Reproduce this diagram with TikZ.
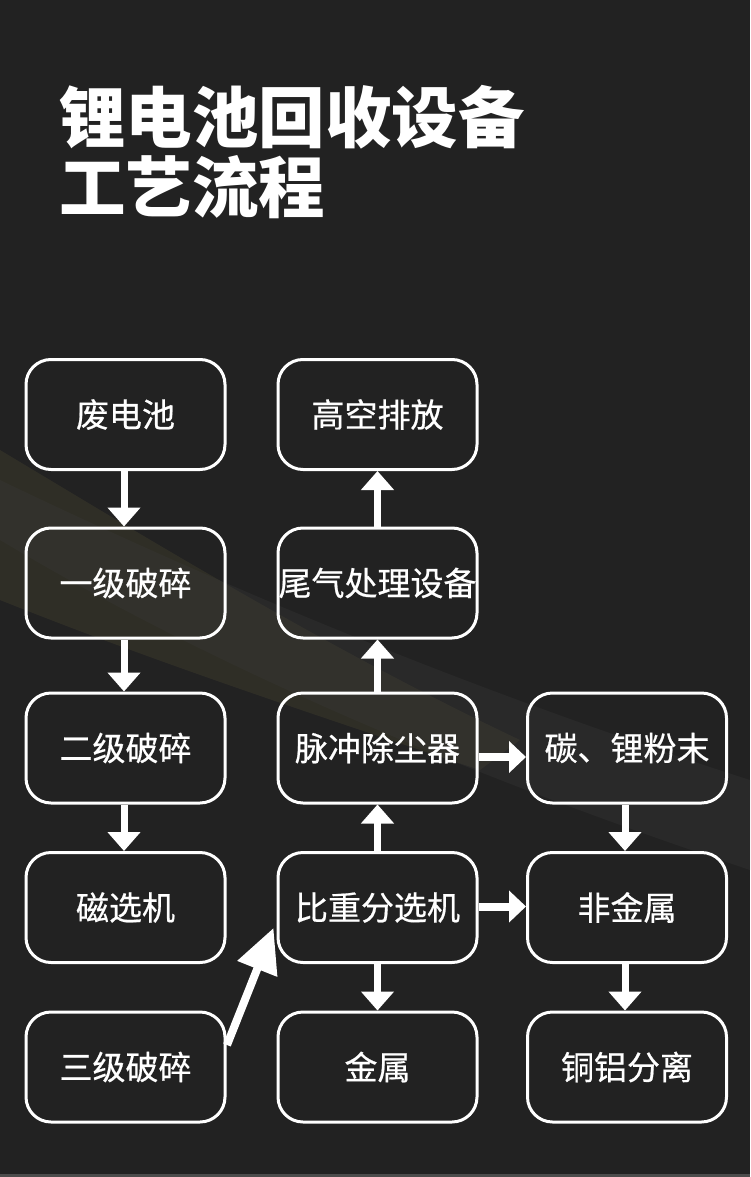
\documentclass[tikz,border=0pt]{standalone}
\usepackage{fontspec}
\newfontfamily\cjk{Noto Sans CJK SC}
\newfontfamily\cjkm{Noto Sans CJK SC}[FakeBold=0.6]
\usetikzlibrary{arrows.meta,calc}
\definecolor{bgc}{HTML}{222222}
\definecolor{bandc}{HTML}{3A3A3A}
\definecolor{olivec}{HTML}{4A4630}
\begin{document}
\begin{tikzpicture}[x=1pt,y=-1pt,
  box/.style={draw=white,line width=3pt,rounded corners=25pt,minimum width=199pt,minimum height=110pt,
    inner sep=0pt,text=white,font=\cjkm\fontsize{33}{36}\selectfont},
  arr/.style={draw=white,line width=7pt,-{Triangle[width=32pt,length=19pt]}},
  harr/.style={draw=white,line width=8pt,-{Triangle[width=31pt,length=17pt]}},
  diag/.style={draw=white,line width=8pt,-{Triangle[width=41pt,length=44pt]}},
  ttl/.style={anchor=base west,inner sep=0pt,text=white,font=\cjk\bfseries\fontsize{66.5}{70}\selectfont}]
\useasboundingbox (0,0) rectangle (750,1177);
\fill[bgc] (0,0) rectangle (750,1177);
\fill[gray!60!black] (0,1174) rectangle (750,1177);
% decorative band
\fill[olivec,opacity=0.35] (0,450) -- (0,600) .. controls (150,660) and (300,710) .. (480,770) -- (520,740) .. controls (330,650) and (150,540) .. (0,450) -- cycle;
\fill[bandc,opacity=0.3] (0,540) .. controls (200,660) and (450,770) .. (750,870) -- (750,780) .. controls (500,700) and (250,600) .. (0,480) -- cycle;
% title
\node[ttl] (t1) at (59,143) {锂电池回收设备};
\node[ttl] (t2) at (59,212) {工艺流程};
% boxes
\node[box] (waste) at (125.5,414.5) {废电池};
\node[box] (c1) at (125.5,583) {一级破碎};
\node[box] (c2) at (125.5,748) {二级破碎};
\node[box] (mag) at (125.5,907.5) {磁选机};
\node[box] (c3) at (125.5,1067) {三级破碎};
\node[box] (high) at (377.5,414.5) {高空排放};
\node[box] (tail) at (377.5,583) {尾气处理设备};
\node[box] (pulse) at (377.5,748) {脉冲除尘器};
\node[box] (sep) at (377.5,907.5) {比重分选机};
\node[box] (metal) at (377.5,1067) {金属};
\node[box] (carbon) at (627,748) {碳、锂粉末};
\node[box] (nonm) at (627,907.5) {非金属};
\node[box] (cual) at (627,1067) {铜铝分离};
% arrows
\draw[arr] ([xshift=-1.5pt]waste.south) -- ([xshift=-1.5pt]c1.north);
\draw[arr] ([xshift=-1.5pt]c1.south) -- ([xshift=-1.5pt]c2.north);
\draw[arr] ([xshift=-1.5pt]c2.south) -- ([xshift=-1.5pt]mag.north);
\draw[arr] (tail.north) -- (high.south);
\draw[arr] (pulse.north) -- (tail.south);
\draw[arr] (sep.north) -- (pulse.south);
\draw[arr] (sep.south) -- (metal.north);
\draw[arr] ([xshift=-2pt]carbon.south) -- ([xshift=-2pt]nonm.north);
\draw[arr] ([xshift=-2pt]nonm.south) -- ([xshift=-2pt]cual.north);
\draw[harr] ([yshift=-9pt]pulse.east) -- ([yshift=-9pt]carbon.west);
\draw[harr] ([yshift=1pt]sep.east) -- ([yshift=1pt]nonm.west);
\draw[diag] ([shift={(0.5,-22)}]c3.east) -- ([shift={(-3,-36)}]sep.south west);
\end{tikzpicture}
\end{document}
